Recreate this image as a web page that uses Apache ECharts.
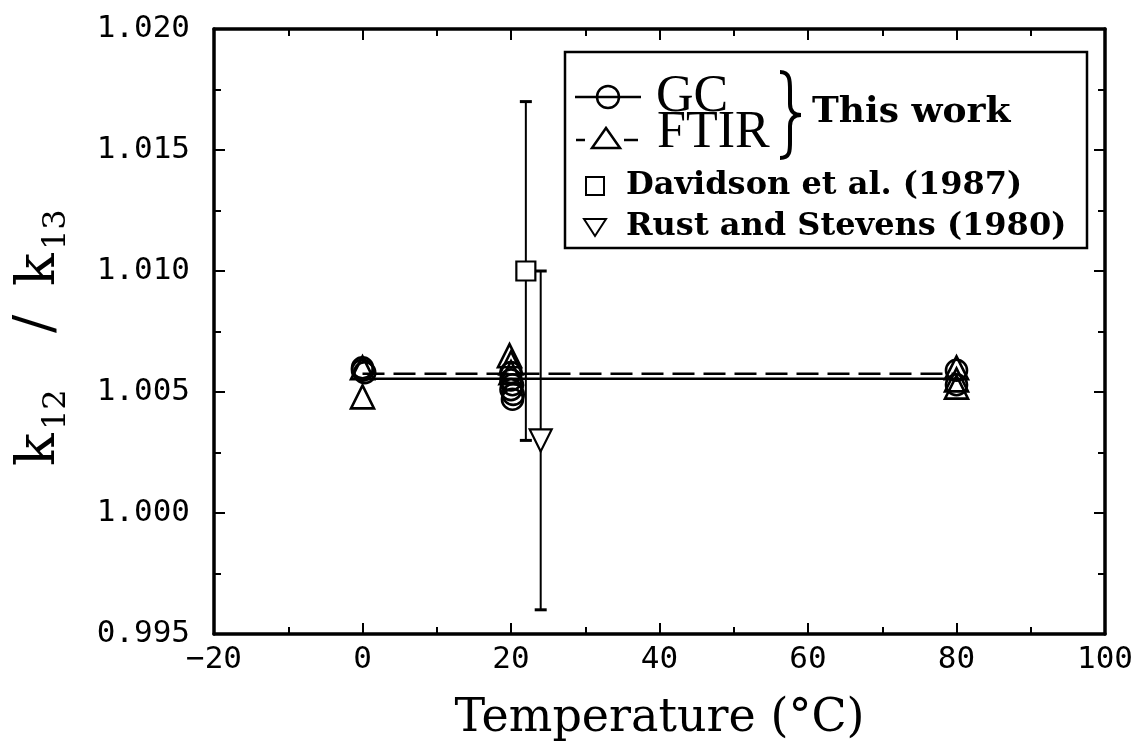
<!DOCTYPE html>
<html>
<head>
<meta charset="utf-8">
<script src="https://cdn.jsdelivr.net/npm/echarts@6/dist/echarts.min.js"></script>
<style>
  html, body { margin: 0; padding: 0; background: #fff; }
  #chart { width: 1137px; height: 755px; }
</style>
</head>
<body>
<div id="chart"></div>
<script>
// ---- data ----
const xTicks = [-20, 0, 20, 40, 60, 80, 100]
const yTicks = [0.995, 1.000, 1.005, 1.010, 1.015, 1.020]

// GC (this work), open circles
const gcPoints = [
  [0, 1.0060], [0, 1.0059], [0.3, 1.0058],
  [20, 1.0058], [20, 1.0055], [20.2, 1.0053], [20, 1.0051], [20.3, 1.0049], [20.2, 1.0047],
  [80, 1.0059], [80, 1.0053]
]
// FTIR (this work), open triangles
const ftirPoints = [
  [0, 1.0060], [0, 1.0048],
  [19.8, 1.0065], [20, 1.0062], [20, 1.0058],
  [80, 1.0060], [80, 1.0055], [80, 1.0052]
]
// mean lines
const gcMean = [[0, 1.00555], [80, 1.00555]]
const ftirMean = [[0, 1.00575], [80, 1.00575]]

// literature values with error bars [x, y, low, high]
const davidson = [[22, 1.010, 1.003, 1.017]]
const rust = [[24, 1.003, 0.996, 1.010]]

// ---- chart ----
const chart = echarts.init(document.getElementById('chart'))

const tickFont = { fontFamily: 'DejaVu Sans Mono', fontSize: 31, color: '#000' }
const frameLine = { show: true, onZero: false, lineStyle: { color: '#000', width: 3.5 } }
const innerTick = { show: true, inside: true, length: 11, lineStyle: { color: '#000', width: 2 } }
const innerMinor = { show: true, splitNumber: 2, length: 7, lineStyle: { color: '#000', width: 2 } }

const fmtX = v => (v < 0 ? '\u2212' + Math.abs(v) : String(v))
const fmtY = v => v.toFixed(3)

// error bar drawer
const errorBar = (params, api) => {
  const x = api.value(0)
  const lo = api.coord([x, api.value(2)])
  const hi = api.coord([x, api.value(3)])
  const cap = 6
  return {
    type: 'group',
    children: [
      { type: 'line', shape: { x1: lo[0], y1: lo[1], x2: hi[0], y2: hi[1] }, style: { stroke: '#000', lineWidth: 2 } },
      { type: 'line', shape: { x1: lo[0] - cap, y1: lo[1], x2: lo[0] + cap, y2: lo[1] }, style: { stroke: '#000', lineWidth: 3 } },
      { type: 'line', shape: { x1: hi[0] - cap, y1: hi[1], x2: hi[0] + cap, y2: hi[1] }, style: { stroke: '#000', lineWidth: 3 } }
    ]
  }
}

const openStyle = { color: 'rgba(0,0,0,0)', borderColor: '#000', borderWidth: 2.6, opacity: 1 }
const whiteStyle = { color: '#fff', borderColor: '#000', borderWidth: 2.2, opacity: 1 }

// legend (drawn by hand, it has a brace)
const legendText = (text, x, y, font) => ({
  type: 'text', z: 101,
  style: { text, x, y, font, fill: '#000', textAlign: 'left', textVerticalAlign: 'middle' }
})
const slabBold = 'bold 32px "DejaVu Serif"'
const stroke = w => ({ fill: 'none', stroke: '#000', lineWidth: w })
const curve = (x1, y1, cpx1, cpy1, cpx2, cpy2, x2, y2) => ({
  type: 'bezierCurve', z: 101, shape: { x1, y1, cpx1, cpy1, cpx2, cpy2, x2, y2 }, style: stroke(4)
})

const legendGraphic = [
  { type: 'rect', z: 100, shape: { x: 565, y: 52, width: 522, height: 196 },
    style: { fill: '#fff', stroke: '#000', lineWidth: 2.5 } },
  // GC
  { type: 'line', z: 101, shape: { x1: 575, y1: 97, x2: 641, y2: 97 }, style: stroke(2.5) },
  { type: 'circle', z: 101, shape: { cx: 608, cy: 97, r: 11 }, style: stroke(2.5) },
  legendText('GC', 656, 97, '52px "Liberation Serif"'),
  // FTIR
  { type: 'line', z: 101, shape: { x1: 576, y1: 140, x2: 585, y2: 140 }, style: stroke(2.5) },
  { type: 'line', z: 101, shape: { x1: 624, y1: 140, x2: 638, y2: 140 }, style: stroke(2.5) },
  { type: 'polygon', z: 101, shape: { points: [[606, 128], [592, 148], [620, 148]] }, style: stroke(2.5) },
  legendText('FTIR', 657, 133, '52px "Liberation Serif"'),
  // brace
  curve(780, 72, 791, 72, 790, 82, 790, 94),
  { type: 'line', z: 101, shape: { x1: 790, y1: 94, x2: 790, y2: 104 }, style: stroke(4) },
  curve(790, 104, 790, 111, 794, 115, 801, 115),
  curve(801, 115, 794, 115, 790, 119, 790, 126),
  { type: 'line', z: 101, shape: { x1: 790, y1: 126, x2: 790, y2: 138 }, style: stroke(4) },
  curve(790, 138, 790, 150, 791, 158, 780, 158),
  legendText('This work', 812, 113, 'bold 36px "DejaVu Serif"'),
  // Davidson
  { type: 'rect', z: 101, shape: { x: 586, y: 177, width: 18, height: 18 }, style: stroke(2) },
  legendText('Davidson et al. (1987)', 626, 186, slabBold),
  // Rust
  { type: 'polygon', z: 101, shape: { points: [[584, 219], [606, 219], [595, 236]] }, style: stroke(2) },
  legendText('Rust and Stevens (1980)', 626, 227, slabBold)
]

// y axis title k12 / k13, rotated
const yText = (text, x, y, size, align) => ({
  type: 'text',
  style: { text, x, y, font: size + 'px "DejaVu Serif"', fill: '#000', textAlign: align || 'left', textVerticalAlign: 'middle' }
})
const yTitle = {
  type: 'group', x: 40, y: 328, rotation: Math.PI / 2,
  children: [
    yText('k', -138, 0, 54),
    yText('12', -102, 17, 32),
    yText('/', 4, -2, 54, 'center'),
    yText('k', 42, 0, 54),
    yText('13', 78, 17, 32)
  ]
}

const xBase = {
  type: 'value', min: xTicks[0], max: xTicks[xTicks.length - 1], interval: 20,
  axisLine: frameLine, axisTick: innerTick, minorTick: innerMinor, splitLine: { show: false }
}
const yBase = {
  type: 'value', min: yTicks[0], max: yTicks[yTicks.length - 1], interval: 0.005,
  axisLine: frameLine, axisTick: innerTick, minorTick: innerMinor, splitLine: { show: false }
}

chart.setOption({
  backgroundColor: '#fff',
  animation: false,
  grid: { left: 214, top: 29, right: 32, bottom: 121 },
  xAxis: [
    { ...xBase, position: 'bottom',
      axisLabel: { ...tickFont, margin: 10, formatter: fmtX },
      name: 'Temperature (\u00B0C)', nameLocation: 'middle', nameGap: 62,
      nameTextStyle: { fontFamily: 'DejaVu Serif', fontSize: 46, color: '#000' } },
    { ...xBase, position: 'top', axisLabel: { show: false } }
  ],
  yAxis: [
    { ...yBase, position: 'left', axisLabel: { ...tickFont, margin: 24, formatter: fmtY } },
    { ...yBase, position: 'right', axisLabel: { show: false } }
  ],
  graphic: [yTitle, ...legendGraphic],
  series: [
    { type: 'line', data: gcMean, showSymbol: false, symbol: 'none', z: 2,
      lineStyle: { color: '#000', width: 2.5 } },
    { type: 'line', data: ftirMean, showSymbol: false, symbol: 'none', z: 2,
      lineStyle: { color: '#000', width: 2.5, type: [22, 9] } },
    { type: 'custom', renderItem: errorBar, z: 3,
      data: davidson.map(d => [d[0], d[1], d[2], d[3]]), encode: { x: 0, y: [2, 3] } },
    { type: 'custom', renderItem: errorBar, z: 3,
      data: rust.map(d => [d[0], d[1], d[2], d[3]]), encode: { x: 0, y: [2, 3] } },
    { type: 'scatter', name: 'GC', data: gcPoints, symbol: 'circle', symbolSize: 21, z: 4,
      itemStyle: openStyle, emphasis: { disabled: true } },
    { type: 'scatter', name: 'FTIR', data: ftirPoints, symbol: 'triangle', symbolSize: 23, z: 4,
      itemStyle: openStyle, emphasis: { disabled: true } },
    { type: 'scatter', name: 'Davidson et al. (1987)', data: davidson.map(d => [d[0], d[1]]),
      symbol: 'rect', symbolSize: 19, z: 5, itemStyle: whiteStyle, emphasis: { disabled: true } },
    { type: 'scatter', name: 'Rust and Stevens (1980)', data: rust.map(d => [d[0], d[1]]),
      symbol: 'triangle', symbolRotate: 180, symbolSize: 22, z: 5, itemStyle: whiteStyle, emphasis: { disabled: true } }
  ]
})
</script>
</body>
</html>
